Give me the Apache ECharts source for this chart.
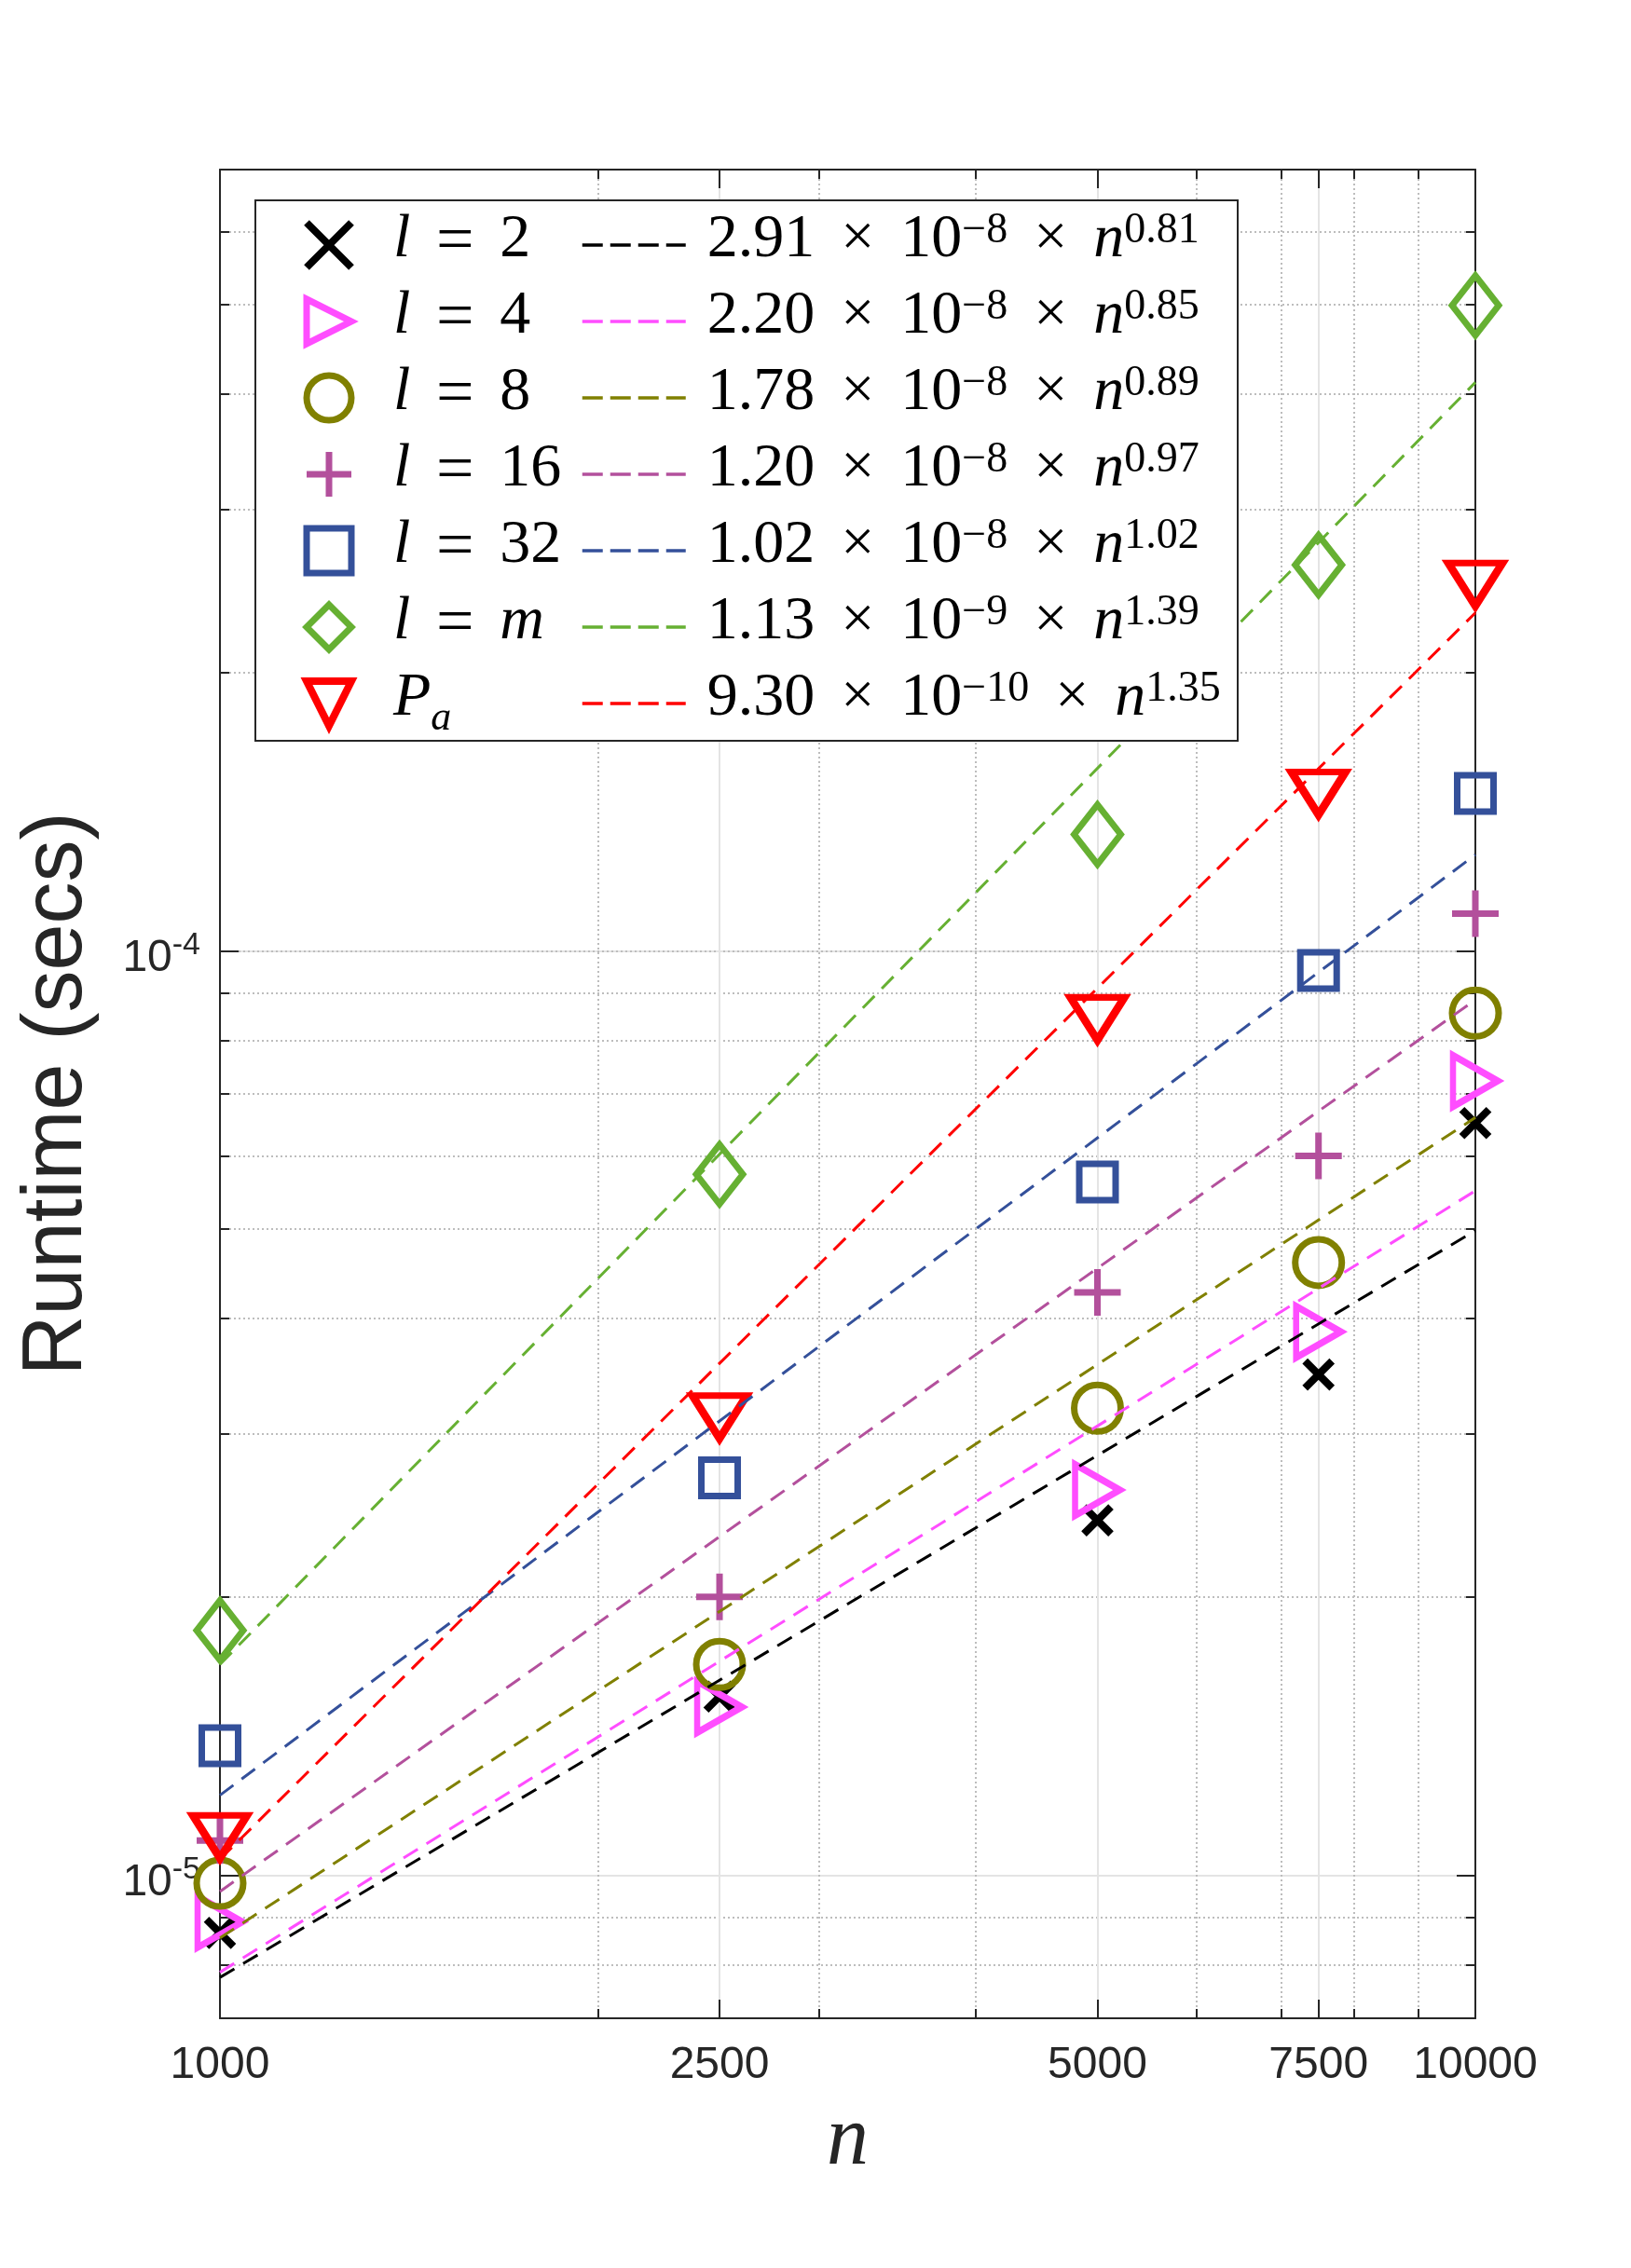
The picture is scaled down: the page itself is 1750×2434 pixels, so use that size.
<!DOCTYPE html>
<html>
<head>
<meta charset="utf-8">
<script src="https://cdn.jsdelivr.net/npm/echarts@6/dist/echarts.min.js"></script>
<style>
html, body { margin: 0; padding: 0; background: #fff; }
#chart { width: 1750px; height: 2434px; }
</style>
</head>
<body>
<div id="chart"></div>
<script>
// data
var nValues = [1000, 2500, 5000, 7500, 10000];
var runL2  = [8.66e-6, 1.56e-5, 2.42e-5, 3.48e-5, 6.51e-5];
var runL4  = [8.9e-6, 1.52e-5, 2.61e-5, 3.87e-5, 7.23e-5];
var runL8  = [9.8e-6, 1.69e-5, 3.20e-5, 4.60e-5, 8.56e-5];
var runL16 = [1.09e-5, 2.0e-5, 4.27e-5, 6.0e-5, 1.097e-4];
var runL32 = [1.38e-5, 2.69e-5, 5.62e-5, 9.52e-5, 1.48e-4];
var runLm  = [1.84e-5, 5.73e-5, 1.336e-4, 2.614e-4, 4.99e-4];
var runPa  = [1.10e-5, 3.13e-5, 8.44e-5, 1.48e-4, 2.49e-4];

// fitted lines, value at n = 1000 and n = 10000
var fitN   = [1000, 10000];
var fitL2  = [7.75e-6, 4.98e-5];
var fitL4  = [7.85e-6, 5.5e-5];
var fitL8  = [8.55e-6, 6.6e-5];
var fitL16 = [9.6e-6, 8.85e-5];
var fitL32 = [1.22e-5, 1.27e-4];
var fitLm  = [1.69e-5, 4.12e-4];
var fitPa  = [1.04e-5, 2.32e-4];

var fitCoef  = ['2.91', '2.20', '1.78', '1.20', '1.02', '1.13', '9.30'];
var fitExp10 = ['\u22128', '\u22128', '\u22128', '\u22128', '\u22128', '\u22129', '\u221210'];
var fitPow   = ['0.81', '0.85', '0.89', '0.97', '1.02', '1.39', '1.35'];

var seriesNames = ['l = 2', 'l = 4', 'l = 8', 'l = 16', 'l = 32', 'l = m', 'P_a'];

var xLabelTicks = [1000, 2500, 5000, 7500, 10000];
var xMajorTicks = [2500, 5000, 7500];
var xMinorTicks = [2000, 3000, 4000, 6000, 7000, 8000, 9000];
var yMajorTicks = [1e-5, 1e-4];
var yMinorTicks = [8e-6, 9e-6, 2e-5, 3e-5, 4e-5, 5e-5, 6e-5, 7e-5, 8e-5, 9e-5, 1e-4,
                   2e-4, 3e-4, 4e-4, 5e-4, 6e-4];

// styles
var colors = ['#000000', '#ff4dff', '#808000', '#b3509c', '#34509a', '#66b032', '#ff0000'];
var symbols = [
    'path://M0,0L1,1M1,0L0,1',
    'path://M0,0L1,0.5L0,1Z',
    'circle',
    'path://M0,0.5L1,0.5M0.5,0L0.5,1',
    'path://M0,0L1,0L1,1L0,1Z',
    'path://M0.5,0L1,0.5L0.5,1L0,0.5Z',
    'path://M0,0L1,0L0.5,1Z'
];
var symbolSizes = [[29, 29], [48, 55], 50, [50, 50], [39, 39], [50, 64], [58, 46]];
var borderWidths = [8, 7, 7, 7, 7, 7, 8];

var runs = [runL2, runL4, runL8, runL16, runL32, runLm, runPa];
var fits = [fitL2, fitL4, fitL8, fitL16, fitL32, fitLm, fitPa];

var axisColor = '#262626';
var serif = 'Liberation Serif';
var sans = 'Liberation Sans';

var fitNames = [];
var fitRich = {};
for (var k = 0; k < fitCoef.length; k++) {
    var nm = fitCoef[k] + ' \u00d7 10^' + fitExp10[k] + ' \u00d7 n^' + fitPow[k];
    fitNames.push(nm);
    fitRich[nm] = '{h| }{t|' + fitCoef[k] + '}{x|\u00d7}{t|10}{s|' + fitExp10[k] +
        '}{x|\u00d7}{i|n}{s|' + fitPow[k] + '}';
}

function markerLabel(name) {
    if (name === 'P_a') return '{g| }{i|P}{sub|a}';
    var v = name.split(' = ')[1];
    var rhs = v === 'm' ? '{i|m}' : '{t|' + v + '}';
    return '{g| }{i|l}{e|=}' + rhs;
}

var series = [];
for (var s = 0; s < runs.length; s++) {
    series.push({
        name: seriesNames[s],
        type: 'scatter',
        xAxisIndex: 0,
        yAxisIndex: 0,
        data: nValues.map(function (n, i) { return [n, runs[s][i]]; }),
        symbol: symbols[s],
        symbolSize: symbolSizes[s],
        itemStyle: { color: 'none', borderColor: colors[s], borderWidth: borderWidths[s], opacity: 1 },
        z: 2
    });
}
for (var f = 0; f < fits.length; f++) {
    series.push({
        name: fitNames[f],
        type: 'line',
        xAxisIndex: 0,
        yAxisIndex: 0,
        data: fitN.map(function (n, i) { return [n, fits[f][i]]; }),
        symbol: 'none',
        lineStyle: { color: colors[f], width: 3, type: [18, 11] },
        itemStyle: { color: colors[f] },
        z: 3
    });
}

function logAxis(pos, min, max, opts) {
    var a = {
        type: 'log',
        logBase: 10,
        position: pos,
        min: min,
        max: max,
        axisLine: { show: !!opts.line, onZero: false, lineStyle: { color: axisColor, width: 2 } },
        axisTick: { show: true, inside: true, length: opts.tickLen, customValues: opts.ticks,
                    lineStyle: { color: axisColor, width: 2 } },
        axisLabel: { show: false },
        splitLine: { show: false },
        minorTick: { show: false },
        minorSplitLine: { show: false }
    };
    if (opts.grid) a.splitLine = { show: true, lineStyle: opts.grid };
    return a;
}

var majorGrid = { color: '#e4e4e4', width: 2, type: 'solid' };
var minorGrid = { color: '#bdbdbd', width: 2, type: [2, 3] };

var x0 = logAxis('bottom', 1000, 10000, { line: true, tickLen: 20, ticks: xMajorTicks, grid: majorGrid });
x0.axisLabel = {
    show: true, customValues: xLabelTicks, margin: 27,
    fontFamily: sans, fontSize: 48, color: axisColor,
    formatter: function (v) { return String(Math.round(v)); }
};
x0.name = 'n';
x0.nameLocation = 'middle';
x0.nameGap = 87;
x0.nameTextStyle = { fontFamily: serif, fontStyle: 'italic', fontSize: 90, color: axisColor };

var y0 = logAxis('left', 7e-6, 7e-4, { line: true, tickLen: 20, ticks: yMajorTicks, grid: majorGrid });
y0.axisLabel = {
    show: true, customValues: yMajorTicks, margin: 21,
    padding: [16, 0, 0, 0],
    formatter: function (v) { return '{b|10}{s|' + Math.round(Math.log10(v)) + '}'; },
    rich: {
        b: { fontFamily: sans, fontSize: 48, lineHeight: 62, color: axisColor },
        s: { fontFamily: sans, fontSize: 34, lineHeight: 14, verticalAlign: 'top', color: axisColor }
    }
};
y0.name = 'Runtime (secs)';
y0.nameLocation = 'middle';
y0.nameGap = 129;
y0.nameRotate = 90;
y0.nameTextStyle = { fontFamily: sans, fontSize: 90, color: axisColor };

var legendText = {
    fontFamily: serif, fontSize: 66, color: '#000', lineHeight: 76,
    rich: {
        g: { width: 40, lineHeight: 76, fontSize: 64, fontFamily: serif },
        h: { width: 18, lineHeight: 76, fontSize: 64, fontFamily: serif },
        i: { fontFamily: serif, fontStyle: 'italic', fontSize: 66, lineHeight: 66, verticalAlign: 'top', color: '#000' },
        t: { fontFamily: serif, fontSize: 66, lineHeight: 66, verticalAlign: 'top', color: '#000' },
        e: { fontFamily: serif, fontSize: 72, lineHeight: 66, verticalAlign: 'top', width: 96, align: 'center', color: '#000' },
        x: { fontFamily: serif, fontSize: 64, lineHeight: 66, verticalAlign: 'top', width: 92, align: 'center', color: '#000' },
        s: { fontFamily: serif, fontSize: 46, lineHeight: 34, verticalAlign: 'top', color: '#000' },
        sub: { fontFamily: serif, fontStyle: 'italic', fontSize: 44, lineHeight: 30, verticalAlign: 'bottom', color: '#000' }
    }
};

var option = {
    animation: false,
    backgroundColor: '#ffffff',
    grid: { left: 236, right: 167, top: 182, bottom: 268, containLabel: false },
    xAxis: [
        x0,
        logAxis('bottom', 1000, 10000, { tickLen: 10, ticks: xMinorTicks, grid: minorGrid }),
        logAxis('top', 1000, 10000, { line: true, tickLen: 20, ticks: xMajorTicks }),
        logAxis('top', 1000, 10000, { tickLen: 10, ticks: xMinorTicks })
    ],
    yAxis: [
        y0,
        logAxis('left', 7e-6, 7e-4, { tickLen: 10, ticks: yMinorTicks, grid: minorGrid }),
        logAxis('right', 7e-6, 7e-4, { line: true, tickLen: 20, ticks: yMajorTicks }),
        logAxis('right', 7e-6, 7e-4, { tickLen: 10, ticks: yMinorTicks })
    ],
    graphic: {
        elements: [{
            type: 'rect',
            silent: true,
            z: 5,
            shape: { x: 274, y: 215, width: 1054, height: 580 },
            style: { fill: '#ffffff', stroke: axisColor, lineWidth: 2 }
        }]
    },
    legend: [
        {
            data: seriesNames,
            orient: 'vertical',
            left: 325,
            top: 225,
            padding: 0,
            itemWidth: 48,
            itemHeight: 58,
            itemGap: 6,
            selectedMode: false,
            z: 6,
            itemStyle: { borderWidth: 'inherit' },
            textStyle: legendText,
            formatter: markerLabel
        },
        {
            data: fitNames,
            orient: 'vertical',
            left: 623,
            top: 225,
            padding: 0,
            itemWidth: 111,
            itemHeight: 14,
            itemGap: 6,
            selectedMode: false,
            z: 6,
            itemStyle: { opacity: 0 },
            lineStyle: { width: 3.5, type: [22, 8] },
            textStyle: legendText,
            formatter: function (name) { return fitRich[name]; }
        }
    ],
    series: series
};

var chart = echarts.init(document.getElementById('chart'));
chart.setOption(option);
</script>
</body>
</html>
